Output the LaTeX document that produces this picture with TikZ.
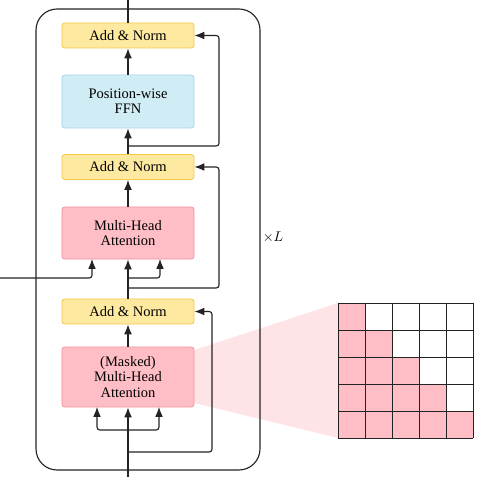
\documentclass[tikz,border=0pt]{standalone}
\usepackage{fontspec}
\setmainfont{Liberation Serif}
\usetikzlibrary{arrows.meta}
\definecolor{normfill}{RGB}{254,233,160}
\definecolor{normdraw}{RGB}{244,200,70}
\definecolor{ffnfill}{RGB}{208,236,244}
\definecolor{ffndraw}{RGB}{166,214,234}
\definecolor{attfill}{RGB}{255,190,198}
\definecolor{attdraw}{RGB}{240,150,160}
\definecolor{fanfill}{RGB}{255,228,231}
\definecolor{linecol}{RGB}{35,35,35}
\begin{document}
\begin{tikzpicture}[x=0.025cm, y=-0.025cm,
    block/.style={draw, rounded corners=2pt, line width=0.6pt, minimum width=3.3cm, inner sep=0pt, align=center, font=\fontsize{10.3}{10.8}\selectfont},
    norm/.style={block, fill=normfill, draw=normdraw, minimum height=0.625cm},
    ffn/.style={block, fill=ffnfill, draw=ffndraw, minimum height=1.325cm},
    att/.style={block, fill=attfill, draw=attdraw},
    conn/.style={draw=linecol, line width=0.8pt, rounded corners=2pt},
    arr/.style={conn, -{Latex[length=7pt, width=5.5pt]}}]
    \useasboundingbox (0,0) rectangle (480,477);

    \fill[fanfill] (194,350) -- (338,303) -- (338,438) -- (194,403) -- cycle;
    \draw[linecol, line width=0.8pt, rounded corners=15pt] (36,9) rectangle (260,470);

    \node[norm] (N1) at (128,35.5) {Add \& Norm};
    \node[ffn] (F) at (128,101.5) {Position-wise\\FFN};
    \node[norm] (N2) at (128,167) {Add \& Norm};
    \node[att, minimum height=1.3cm] (A) at (128,233) {Multi-Head\\Attention};
    \node[norm] (N3) at (128,311.5) {Add \& Norm};
    \node[att, minimum height=1.5cm] (M) at (128,377) {(Masked)\\Multi-Head\\Attention};
    \node (L) at (273,237) {$\times L$};

    \coordinate (out) at (128,0);
    \coordinate (in) at (128,477);
    \coordinate (enc) at (0,278);

    \draw[conn] (N1) -- (out);
    \draw[arr] (F) -- (N1);
    \draw[arr] (N2) -- (F);
    \draw[arr] (A) -- (N2);
    \draw[arr] (N3) -- (A);
    \draw[arr] (M) -- (N3);
    \draw[arr] (in) -- (M);

    \draw[arr] (128,430) -- (97,430) -- (97,407);
    \draw[arr] (128,430) -- (159,430) -- (159,407);
    \draw[arr] (enc) -- (92,278) -- (92,259);
    \draw[arr] (128,278) -- (160,278) -- (160,259);

    \draw[arr] (128,146) -- (219,146) -- (219,35.5) -- (N1.east);
    \draw[arr] (128,288) -- (219,288) -- (219,167) -- (N2.east);
    \draw[arr] (128,452) -- (212,452) -- (212,311.5) -- (N3.east);

    \foreach \i in {0,...,4}
        \foreach \j in {0,...,\i}
            \fill[attfill] (338+27*\j,303+27*\i) rectangle ++(27,27);
    \foreach \k in {0,...,5} {
        \draw[linecol, line width=0.7pt] (338+27*\k,303) -- (338+27*\k,438);
        \draw[linecol, line width=0.7pt] (338,303+27*\k) -- (473,303+27*\k);
    }
\end{tikzpicture}
\end{document}
